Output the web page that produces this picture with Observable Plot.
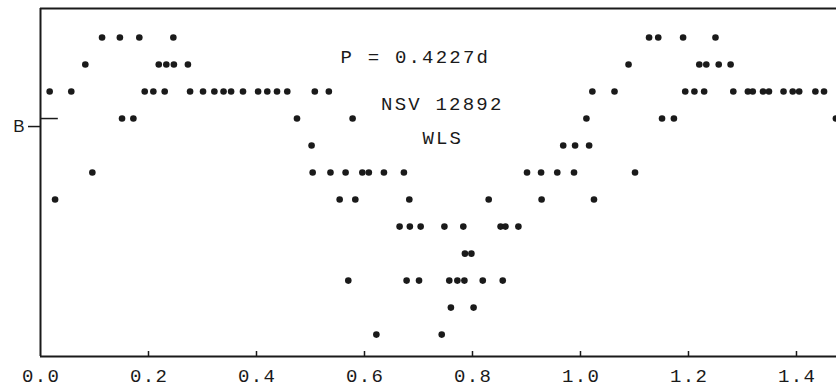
<!DOCTYPE html>
<html>
<head>
<meta charset="utf-8">
<script src="https://cdn.jsdelivr.net/npm/d3@7"></script>
<script src="https://cdn.jsdelivr.net/npm/@observablehq/plot@0.6"></script>
<style>
  html, body { margin: 0; padding: 0; background: #fff; }
  #chart { width: 836px; height: 389px; }
</style>
</head>
<body>
<div id="chart"></div>
<script>
// Brightness level index (0 = brightest step at top); "B" marks step 3.
const level0 = [0.114, 0.147, 0.183, 0.246, 1.127, 1.144, 1.190, 1.250];
const level1 = [0.083, 0.219, 0.233, 0.247, 0.273, 1.089, 1.220, 1.233, 1.256, 1.278];
const level2 = [0.017, 0.057, 0.193, 0.209, 0.230, 0.277, 0.301, 0.322, 0.339, 0.353, 0.375, 0.403, 0.420, 0.438, 0.457, 0.508, 0.534, 1.022, 1.063, 1.194, 1.211, 1.229, 1.283, 1.310, 1.319, 1.338, 1.349, 1.376, 1.393, 1.405, 1.435, 1.451];
const level3 = [0.151, 0.172, 0.475, 0.578, 1.011, 1.151, 1.173, 1.473];
const level4 = [0.502, 0.968, 0.990, 1.016];
const level5 = [0.096, 0.504, 0.537, 0.565, 0.596, 0.608, 0.636, 0.673, 0.901, 0.927, 0.957, 0.988, 1.101];
const level6 = [0.027, 0.554, 0.583, 0.683, 0.830, 0.928, 1.025];
const level7 = [0.665, 0.684, 0.704, 0.748, 0.783, 0.852, 0.861, 0.885];
const level8 = [0.786, 0.798];
const level9 = [0.570, 0.678, 0.701, 0.757, 0.772, 0.785, 0.819, 0.856];
const level10 = [0.760, 0.802];
const level11 = [0.622, 0.743];

const xTicks = [0.0, 0.2, 0.4, 0.6, 0.8, 1.0, 1.2, 1.4];
const yTickB = [3];
const yTickLabels = ["B"];
const labels = ["P = 0.4227d", "NSV 12892", "WLS"];
const labelX = [0.692, 0.742, 0.743];
const labelY = [0.70, 2.44, 3.70];

const xDomain = [0, 1.4741];
const yDomain = [11.81, -1.074];

const levels = [level0, level1, level2, level3, level4, level5, level6, level7, level8, level9, level10, level11];
const points = levels.flatMap((arr, lv) => arr.map(p => ({phase: p, level: lv})));
const texts = labels.map((t, i) => ({t, x: labelX[i], y: labelY[i]}));

const ink = "#1a1a1a";
const font = "Liberation Mono, DejaVu Sans Mono, monospace";

const chart = Plot.plot({
  width: 836,
  height: 389,
  marginLeft: 40,
  marginRight: 0,
  marginTop: 8,
  marginBottom: 33,
  style: {background: "#fff", color: ink, fontFamily: font, overflow: "visible"},
  x: {domain: xDomain, axis: null},
  y: {domain: yDomain, axis: null},
  marks: [
    // frame: top, bottom, left
    Plot.ruleY([yDomain[1]], {stroke: ink, strokeWidth: 2.2}),
    Plot.ruleY([yDomain[0]], {stroke: ink, strokeWidth: 2}),
    Plot.ruleX([0], {stroke: ink, strokeWidth: 2}),
    // x ticks (inward) and labels
    Plot.axisX(xTicks.filter(d => d > 0), {anchor: "bottom", tickSize: -5, tickFormat: () => "", stroke: ink, strokeWidth: 1.5, label: null}),
    Plot.axisX(xTicks, {anchor: "bottom", tickSize: 0, tickPadding: 12, tickFormat: d3.format(".1f"), fontSize: 19, fill: ink, fontFamily: font, label: null}),
    // B tick crossing the axis
    Plot.axisY(yTickB, {anchor: "left", tickSize: 12, tickPadding: 4, tickFormat: (d, i) => yTickLabels[i], fontSize: 17, dy: 8, fill: ink, stroke: ink, strokeWidth: 1.5, label: null, fontFamily: "Liberation Sans, sans-serif"}),
    Plot.ruleY(yTickB, {x1: 0, x2: 0.033, stroke: ink, strokeWidth: 1.5}),
    // points
    Plot.dot(points, {x: "phase", y: "level", r: 3.3, fill: ink, stroke: null}),
    // annotations
    Plot.text(texts, {x: "x", y: "y", text: "t", fontSize: 19, fill: ink, fontFamily: font, textAnchor: "middle", className: "annot"})
  ]
});
document.getElementById("chart").append(chart);

// typewriter letter spacing
d3.select(chart).selectAll(".annot text").attr("letter-spacing", 2.2).attr("dx", 1.1);
d3.select(chart).selectAll("g[aria-label='x-axis tick label'] text").attr("letter-spacing", 1.3).attr("dx", 0.65);
</script>
</body>
</html>
